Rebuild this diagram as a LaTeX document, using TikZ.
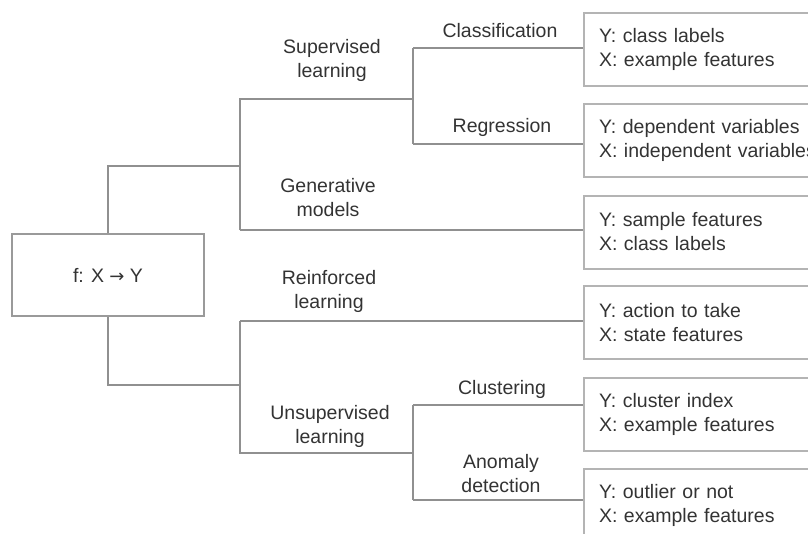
\documentclass[tikz,border=0pt]{standalone}
\usepackage{fontspec}
\setmainfont{Liberation Sans}
\newfontfamily\arrowfont{DejaVu Sans}
\definecolor{txt}{HTML}{333333}
\definecolor{wire}{HTML}{909090}
\definecolor{leafline}{HTML}{B4B4B4}
\definecolor{rootline}{HTML}{9A9A9A}
\begin{document}
\begin{tikzpicture}[x=1pt,y=-1pt,
  every node/.style={font=\fontsize{19.5}{24}\selectfont, text=txt},
  wire/.style={draw=wire, line width=2pt},
  leaf/.style={draw=leafline, line width=2pt, anchor=west, align=left,
               text width=230pt, inner xsep=15pt, minimum height=73pt},
  branch/.style={align=center, inner sep=0pt}]
\useasboundingbox (0,0) rectangle (808,533);

% root of the taxonomy
\node[draw=rootline, line width=2pt, minimum width=192pt, minimum height=82pt]
  (root) at (108,275) {f: X {\arrowfont\fontsize{18}{24}\selectfont →} Y};

% outcome boxes (they run off the right edge)
\node[leaf] (b1) at (583,49.5)  {Y: class labels\\X: example features};
\node[leaf] (b2) at (583,140.5) {Y: dependent variables\\X: independent variables};
\node[leaf] (b3) at (583,232)   {Y: sample features\\X: class labels};
\node[leaf] (b4) at (583,322.5) {Y: action to take\\X: state features};
\node[leaf] (b5) at (583,414)   {Y: cluster index\\X: example features};
\node[leaf] (b6) at (583,505.5) {Y: outlier or not\\X: example features};

% branch points
\coordinate (upM) at (240,166);
\coordinate (upT) at (240,99);
\coordinate (upB) at (240,230);
\coordinate (loM) at (240,385);
\coordinate (loT) at (240,321);
\coordinate (loB) at (240,453);
\coordinate (cls) at (413,48);
\coordinate (reg) at (413,144);
\coordinate (clu) at (413,405);
\coordinate (ano) at (413,500);

% upper tree
\draw[wire] (root.north) |- (upM);
\draw[wire] (upB) -- (upT) -- (cls |- upT);
\draw[wire] (cls) -- (reg);
\draw[wire] (cls) -- (cls -| b1.west);
\draw[wire] (reg) -- (reg -| b2.west);
\draw[wire] (upB) -- (upB -| b3.west);

% lower tree
\draw[wire] (root.south) |- (loM);
\draw[wire] (loT) -- (loB) -- (clu |- loB);
\draw[wire] (clu) -- (ano);
\draw[wire] (loT) -- (loT -| b4.west);
\draw[wire] (clu) -- (clu -| b5.west);
\draw[wire] (ano) -- (ano -| b6.west);

% branch labels
\node[branch] (lsup) at (332,60)  {Supervised\\learning};
\node[branch] (lgen) at (328,198) {Generative\\models};
\node[branch] (lrl)  at (329,291) {Reinforced\\learning};
\node[branch] (luns) at (330,426) {Unsupervised\\learning};
\node[branch] (lcls) at (500,31)  {Classification};
\node[branch] (lreg) at (502,127) {Regression};
\node[branch] (lclu) at (502,389) {Clustering};
\node[branch] (lano) at (501,474) {Anomaly\\detection};
\end{tikzpicture}
\end{document}
